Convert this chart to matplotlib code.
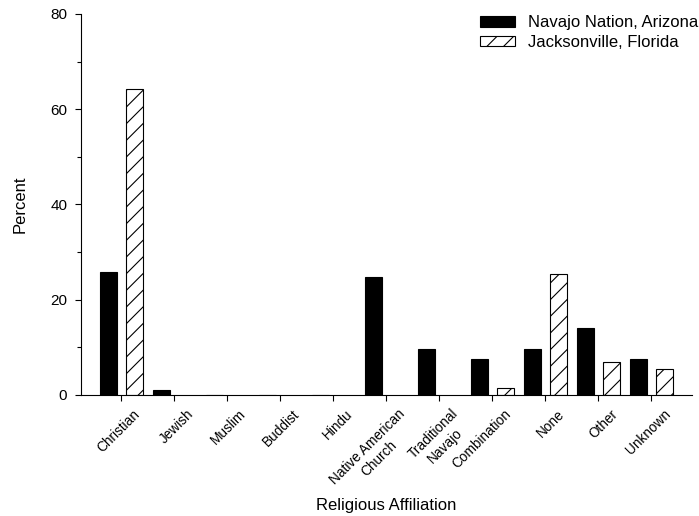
import matplotlib
matplotlib.use("Agg")
import matplotlib.pyplot as plt
import matplotlib.transforms as mtransforms
import numpy as np

plt.rcParams['font.family'] = ['Liberation Sans', 'DejaVu Sans']
plt.rcParams['hatch.linewidth'] = 0.8

categories = ["Christian", "Jewish", "Muslim", "Buddist", "Hindu",
              "Native American\nChurch", "Traditional\nNavajo", "Combination",
              "None", "Other", "Unknown"]
navajo = [25.9, 1.0, 0, 0, 0, 24.8, 9.7, 7.5, 9.7, 14.0, 7.5]
jacksonville = [64.3, 0, 0, 0, 0, 0, 0, 1.4, 25.4, 7.0, 5.5]
series_labels = ["Navajo Nation, Arizona", "Jacksonville, Florida"]

fig = plt.figure(figsize=(6.99, 5.16), dpi=100)
ax = fig.add_axes([0.1159, 0.2345, 0.99 - 0.1159, 0.9729 - 0.2345])

x = np.arange(len(categories))
w = 0.32
off = 0.245
ax.bar(x - off, navajo, w, color='black', edgecolor='black', linewidth=0.8,
       label=series_labels[0])
jx = [xi + off for xi, v in zip(x, jacksonville) if v > 0]
jv = [v for v in jacksonville if v > 0]
ax.bar(jx, jv, w, color='white', edgecolor='black', linewidth=0.8,
       hatch='//', label=series_labels[1])

ax.set_xlim(-0.755, 10.77)
ax.set_ylim(0, 80)
ax.set_yticks([0, 20, 40, 60, 80])
ax.set_yticks([10, 30, 50, 70], minor=True)

ax.tick_params(axis='y', labelsize=11, direction='out', length=4, width=0.8, pad=6)
ax.tick_params(axis='y', which='minor', direction='out', length=3, width=0.8)
ax.tick_params(axis='x', direction='out', length=4, width=0.8, pad=4.5)

ax.set_xticks(x)
ax.set_xticklabels(categories, rotation=45, ha='right', va='top',
                   rotation_mode='anchor', fontsize=9.8,
                   multialignment='center')
# nudge the slanted category names to the right of their ticks
shift = mtransforms.ScaledTranslation(12 / 100, 0, fig.dpi_scale_trans)
for lbl in ax.get_xticklabels():
    lbl.set_transform(lbl.get_transform() + shift)

for s in ['top', 'right']:
    ax.spines[s].set_visible(False)
for s in ['left', 'bottom']:
    ax.spines[s].set_linewidth(0.8)

ax.set_ylabel("Percent", fontsize=12)
ax.yaxis.set_label_coords(-0.088, 0.5)
ax.set_xlabel("Religious Affiliation", fontsize=12)
ax.xaxis.set_label_coords(0.5, -0.27)

fig.legend(loc='upper left', bbox_to_anchor=(0.686, 0.97), frameon=False,
           fontsize=12, handlelength=2.15, handleheight=0.6,
           handletextpad=0.78, labelspacing=0.27, borderaxespad=0,
           borderpad=0)

fig.savefig("out.png", dpi=100)
